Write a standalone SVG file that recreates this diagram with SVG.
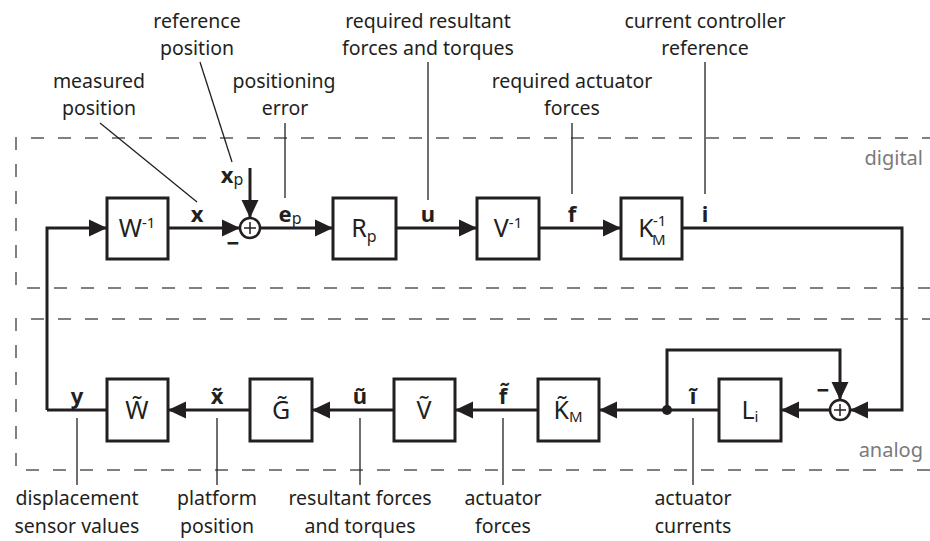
<svg xmlns="http://www.w3.org/2000/svg" width="930" height="541" viewBox="0 0 930 541">
<style>
.lbl{font-family:"Noto Sans","Liberation Sans",sans-serif;font-size:19.5px;fill:#231f20;text-anchor:middle}
.var{font-family:"Noto Sans","Liberation Sans",sans-serif;font-size:22px;font-weight:bold;fill:#231f20;text-anchor:middle}
.blk{font-family:"Noto Sans","Liberation Sans",sans-serif;font-size:25px;fill:#231f20;text-anchor:middle}
.blks{font-family:"Noto Sans","Liberation Sans",sans-serif;font-size:15px;fill:#231f20;text-anchor:start}
.dom{font-family:"Noto Sans","Liberation Sans",sans-serif;font-size:20px;fill:#7a7a7a;text-anchor:end}
.box{fill:#fff;stroke:#231f20;stroke-width:3}
.wire{fill:none;stroke:#231f20;stroke-width:3}
.lead{fill:none;stroke:#231f20;stroke-width:1.3}
.dash{fill:none;stroke:#808080;stroke-width:2;stroke-dasharray:13 14}
</style>
<defs>
<marker id="arr" markerUnits="userSpaceOnUse" markerWidth="18" markerHeight="18" viewBox="0 0 17 16" refX="17" refY="8" orient="auto">
<path d="M0,0 L17,8 L0,16 Z" fill="#231f20"/>
</marker>
</defs>
<g id="domains">
<path class="dash" d="M935,138 H16 V288 H935"/>
<path class="dash" d="M935,319 H16 V470 H935"/>
<text class="dom" x="923" y="165">digital</text>
<text class="dom" x="923" y="457">analog</text>
</g>
<g id="connectors">
<path class="wire" d="M47,410 V228 H107" marker-end="url(#arr)"/>
<path class="wire" d="M168,228 H240" marker-end="url(#arr)"/>
<path class="wire" d="M250,168 V218" marker-end="url(#arr)"/>
<path class="wire" d="M260,228 H333" marker-end="url(#arr)"/>
<path class="wire" d="M396,228 H477" marker-end="url(#arr)"/>
<path class="wire" d="M539,228 H621" marker-end="url(#arr)"/>
<path class="wire" d="M682,228 H902 V410 H850" marker-end="url(#arr)"/>
<path class="wire" d="M830,410 H781" marker-end="url(#arr)"/>
<path class="wire" d="M719,410 H599" marker-end="url(#arr)"/>
<path class="wire" d="M667,410 V350 H840 V400" marker-end="url(#arr)"/>
<path class="wire" d="M538,410 H455" marker-end="url(#arr)"/>
<path class="wire" d="M394,410 H312" marker-end="url(#arr)"/>
<path class="wire" d="M250,410 H168" marker-end="url(#arr)"/>
<path class="wire" d="M107,410 H47"/>
<circle cx="667" cy="410" r="5" fill="#231f20"/>
<path class="lead" d="M100,123 L197,202"/>
<path class="lead" d="M200,62 L232,162"/>
<path class="lead" d="M285,123 V198"/>
<path class="lead" d="M428,62 V200"/>
<path class="lead" d="M572,123 V194"/>
<path class="lead" d="M705,62 V194"/>
<path class="lead" d="M77,418 V485"/>
<path class="lead" d="M217,418 V485"/>
<path class="lead" d="M360,418 V485"/>
<path class="lead" d="M503,418 V485"/>
<path class="lead" d="M693,418 V485"/>
</g>
<g id="sum1">
<circle cx="250" cy="228" r="10" fill="#fff" stroke="#231f20" stroke-width="2.5"/>
<path d="M244,228 H256 M250,222 V234" stroke="#231f20" stroke-width="1.5"/>
<text class="var" x="233" y="251">−</text>
</g>
<g id="sum2">
<circle cx="840" cy="410" r="10" fill="#fff" stroke="#231f20" stroke-width="2.5"/>
<path d="M834,410 H846 M840,404 V416" stroke="#231f20" stroke-width="1.5"/>
<text class="var" x="823" y="398">−</text>
</g>
<g id="Winv"><rect class="box" x="107" y="198" width="61" height="61"/><text class="blk" x="137" y="237">W<tspan font-size="15" dy="-9">-1</tspan></text></g>
<g id="Rp"><rect class="box" x="333" y="198" width="63" height="61"/><text class="blk" x="364" y="237">R<tspan font-size="16" dy="5">p</tspan></text></g>
<g id="Vinv"><rect class="box" x="477" y="198" width="62" height="61"/><text class="blk" x="508" y="237">V<tspan font-size="15" dy="-9">-1</tspan></text></g>
<g id="KMinv"><rect class="box" x="621" y="198" width="61" height="61"/><text class="blk" x="646" y="237">K</text><text class="blks" x="653" y="226">-1</text><text class="blks" x="652" y="245">M</text></g>
<g id="Wt"><rect class="box" x="107" y="379" width="61" height="62"/><text class="blk" x="137" y="419">W̃</text></g>
<g id="Gt"><rect class="box" x="250" y="379" width="62" height="62"/><text class="blk" x="281" y="419">G̃</text></g>
<g id="Vt"><rect class="box" x="394" y="379" width="61" height="62"/><text class="blk" x="424" y="419">Ṽ</text></g>
<g id="KMt"><rect class="box" x="538" y="379" width="61" height="62"/><text class="blk" x="568" y="419">K̃<tspan font-size="15" dy="3">M</tspan></text></g>
<g id="Li"><rect class="box" x="719" y="379" width="62" height="62"/><text class="blk" x="750" y="419">L<tspan font-size="15" dy="3">i</tspan></text></g>
<g id="varlabels">
<text class="var" x="197" y="222">x</text>
<text class="var" x="232" y="183">x<tspan font-weight="normal" font-size="16" dy="2">p</tspan></text>
<text class="var" x="290" y="222">e<tspan font-weight="normal" font-size="16" dy="2">p</tspan></text>
<text class="var" x="428" y="222">u</text>
<text class="var" x="572" y="222">f</text>
<text class="var" x="705" y="222">i</text>
<text class="var" x="77" y="404">y</text>
<text class="var" x="217" y="404">x̃</text>
<text class="var" x="360" y="404">ũ</text>
<text class="var" x="503" y="404">f̃</text>
<text class="var" x="693" y="404">ĩ</text>
</g>
<g id="annotations">
<text class="lbl" x="197" y="28">reference</text>
<text class="lbl" x="197" y="55">position</text>
<text class="lbl" x="99" y="88">measured</text>
<text class="lbl" x="99" y="115">position</text>
<text class="lbl" x="284" y="88">positioning</text>
<text class="lbl" x="285" y="115">error</text>
<text class="lbl" x="428" y="28">required resultant</text>
<text class="lbl" x="428" y="55">forces and torques</text>
<text class="lbl" x="572" y="88">required actuator</text>
<text class="lbl" x="572" y="115">forces</text>
<text class="lbl" x="705" y="28">current controller</text>
<text class="lbl" x="705" y="55">reference</text>
<text class="lbl" x="77" y="505">displacement</text>
<text class="lbl" x="77" y="533">sensor values</text>
<text class="lbl" x="217" y="505">platform</text>
<text class="lbl" x="217" y="533">position</text>
<text class="lbl" x="360" y="505">resultant forces</text>
<text class="lbl" x="360" y="533">and torques</text>
<text class="lbl" x="503" y="505">actuator</text>
<text class="lbl" x="503" y="533">forces</text>
<text class="lbl" x="693" y="505">actuator</text>
<text class="lbl" x="693" y="533">currents</text>
</g>
</svg>
